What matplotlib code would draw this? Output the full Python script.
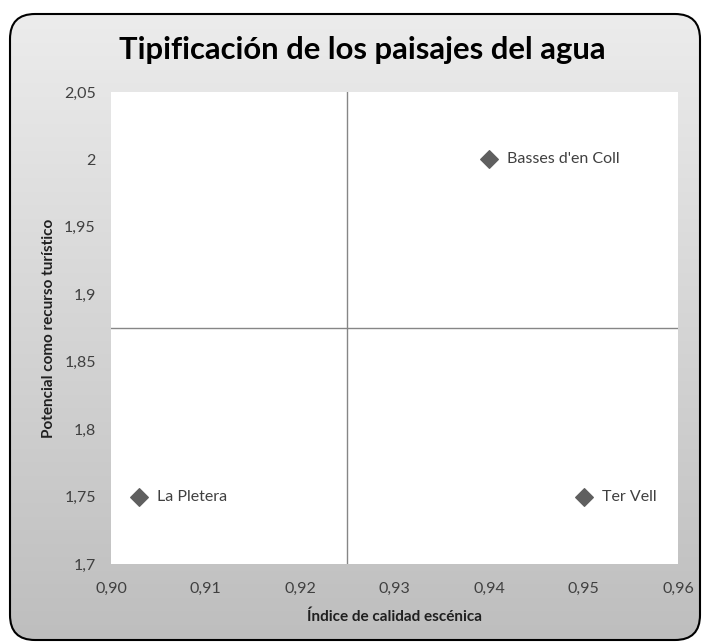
import numpy as np
import matplotlib
matplotlib.use("Agg")
import matplotlib.pyplot as plt
from matplotlib.patches import FancyBboxPatch

names = ["La Pletera", "Basses d'en Coll", "Ter Vell"]
calidad = [0.903, 0.94, 0.95]
potencial = [1.75, 2.0, 1.75]
x_ticks = [0.90, 0.91, 0.92, 0.93, 0.94, 0.95, 0.96]
x_tick_labels = ["0,90", "0,91", "0,92", "0,93", "0,94", "0,95", "0,96"]
y_ticks = [1.7, 1.75, 1.8, 1.85, 1.9, 1.95, 2.0, 2.05]
y_tick_labels = ["1,7", "1,75", "1,8", "1,85", "1,9", "1,95", "2", "2,05"]
x_cross = 0.925
y_cross = 1.875

plt.rcParams['font.family'] = ['Lato', 'DejaVu Sans']

W, H = 705, 644
fig = plt.figure(figsize=(W/100, H/100), dpi=100)
fig.patch.set_facecolor('white')

# background gradient within rounded box
bg = fig.add_axes([0, 0, 1, 1], zorder=0)
bg.set_xlim(0, W); bg.set_ylim(H, 0); bg.axis('off')
grad = np.linspace(0, 1, 256)[:, None]
cols = np.array([236, 236, 236])[None, :] * (1 - grad) + np.array([190, 190, 190])[None, :] * grad
img = bg.imshow(cols[:, None, :].repeat(2, axis=1) / 255.0, extent=[10, 700, 640, 14], aspect='auto')
box = FancyBboxPatch((10 + 25, 14 + 25), 690 - 50, 626 - 50,
                     boxstyle="round,pad=25", facecolor='none', edgecolor='black', linewidth=1.5)
bg.add_patch(box)
img.set_clip_path(box)

l, r, t, b = 111, 678, 92, 564
ax = fig.add_axes([l/W, 1 - b/H, (r-l)/W, (b-t)/H], zorder=1)
ax.set_facecolor('white')
ax.set_xlim(0.90, 0.96)
ax.set_ylim(1.7, 2.05)
for s in ax.spines.values():
    s.set_visible(False)
ax.axvline(x_cross, color='#868686', lw=1)
ax.axhline(y_cross, color='#868686', lw=1)
ax.scatter(calidad, potencial, marker='D', s=80, color='#5f5f5f', zorder=3)
for n, xv, yv in zip(names, calidad, potencial):
    ax.annotate(n, (xv, yv), xytext=(13, 0), textcoords='offset points',
                va='center', ha='left', fontsize=11.5, color='#404040')
ax.set_xticks(x_ticks)
ax.set_xticklabels(x_tick_labels)
ax.set_yticks(y_ticks)
ax.set_yticklabels(y_tick_labels)
ax.tick_params(length=0, labelsize=11.5, labelcolor='#404040')
ax.tick_params(axis='x', pad=13)
ax.tick_params(axis='y', pad=11)
ax.set_xlabel("Índice de calidad escénica", fontsize=11, fontweight='bold', color='#202020', labelpad=10)
ax.set_ylabel("Potencial como recurso turístico", fontsize=11, fontweight='bold', color='#202020', labelpad=6)

fig.text(362/W, 1 - 50/H, "Tipificación de los paisajes del agua", ha='center', va='center',
         fontsize=22.3, fontweight='bold', color='black')

fig.savefig("out.png", dpi=100)
